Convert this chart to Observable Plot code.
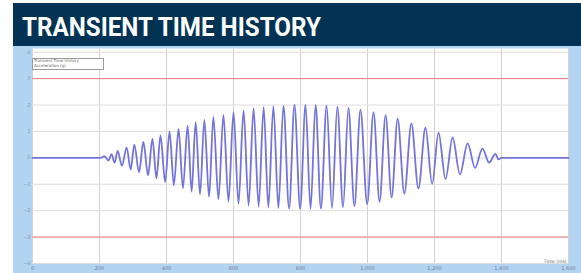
<!DOCTYPE html>
<html>
<head>
<meta charset="utf-8">
<script src="https://cdn.jsdelivr.net/npm/d3@7"></script>
<script src="https://cdn.jsdelivr.net/npm/@observablehq/plot@0.6"></script>
<style>
  html, body { margin: 0; padding: 0; background: #ffffff; }
  #wrap { position: absolute; left: 13px; top: 3px; width: 568px; }
  #header { position: relative; height: 43px; background: #023354; overflow: hidden; }
  #title { position: absolute; left: 9px; top: 11px; font-family: Roboto, sans-serif; font-weight: 700;
           font-size: 26px; line-height: 26px; color: #ffffff; white-space: nowrap;
           transform: scaleX(0.93); transform-origin: left top; }
  #chart { position: relative; height: 227px; }
  #legend { position: absolute; left: 19px; top: 12px; width: 69px; height: 10px; background: #fff;
            border: 1px solid #9a9a9a; font-family: "DejaVu Sans", sans-serif; font-size: 4px; line-height: 4.5px;
            color: #666; padding-left: 1px; }
</style>
</head>
<body>
<div id="wrap">
  <div id="header"><span id="title">TRANSIENT TIME HISTORY</span></div>
  <div id="chart"></div>
</div>
<script>
// Extrema of the transient waveform (time, amplitude)
const extremaTime = [0, 203, 215, 227, 236, 245, 254, 267, 281, 293, 304, 318, 331, 345, 358, 370, 382, 396, 409, 422,
  436, 449, 463, 475, 487, 500, 513, 527, 540, 555, 570, 585, 600, 615, 630, 645, 660, 675, 690, 704,
  719, 734, 749, 766, 782, 799, 815, 830, 845, 861, 878, 894, 910, 927, 943, 961, 979, 999, 1018, 1036,
  1054, 1072, 1090, 1110, 1131, 1152, 1173, 1193, 1212, 1233, 1254, 1276, 1299, 1321, 1343, 1363, 1382, 1391, 1400, 1600];
const extremaValue = [0, 0, 0.06, -0.1, 0.14, -0.18, 0.26, -0.3, 0.39, -0.44, 0.5, -0.55, 0.6, -0.66, 0.72, -0.78, 0.85, -0.92, 1.0, -1.04,
  1.1, -1.15, 1.22, -1.28, 1.35, -1.38, 1.44, -1.48, 1.55, -1.57, 1.63, -1.66, 1.74, -1.74, 1.8, -1.8, 1.87, -1.85, 1.92, -1.88,
  1.96, -1.9, 1.97, -1.92, 2.0, -1.93, 2.0, -1.93, 2.0, -1.92, 1.98, -1.9, 1.94, -1.87, 1.89, -1.82, 1.82, -1.75, 1.73, -1.66,
  1.62, -1.5, 1.48, -1.36, 1.3, -1.16, 1.14, -0.98, 0.95, -0.8, 0.77, -0.63, 0.55, -0.38, 0.35, -0.18, 0.15, -0.06, 0, 0];
const xTicks = [0, 200, 400, 600, 800, 1000, 1200, 1400, 1600];
const yTicks = [-4, -3, -2, -1, 0, 1, 2, 3, 4];
const limitValues = [-3, 3];
const legendLines = ["Transient Time History", "Acceleration (g)"];
const xAxisTitle = "Time (ms)";

const signal = extremaTime.map((t, i) => ({t, v: extremaValue[i]}));

const chart = Plot.plot({
  width: 568,
  height: 227,
  marginLeft: 19,
  marginRight: 13,
  marginTop: 2,
  marginBottom: 10,
  style: {background: "#b3d3f2", fontFamily: "DejaVu Sans, sans-serif"},
  x: {domain: [0, 1600]},
  y: {domain: [-4, 4.14]},
  marks: [
    Plot.frame({fill: "#ffffff", stroke: null}),
    Plot.ruleX(xTicks, {stroke: "#d2d2d2", strokeWidth: 1}),
    Plot.ruleY(yTicks, {stroke: "#dedede", strokeWidth: 1}),
    Plot.ruleY(limitValues, {stroke: "#ea7a82", strokeWidth: 1}),
    Plot.line(signal, {x: "t", y: "v", curve: "monotone-x", stroke: "#7373da", strokeWidth: 1.8}),
    Plot.axisX(xTicks, {tickSize: 0, tickPadding: 3, fontSize: 5, fill: "#6c7f99", label: null}),
    Plot.axisY(yTicks, {tickSize: 0, tickPadding: 2, fontSize: 5, fill: "#8a98ad", label: null}),
    Plot.text([xAxisTitle], {frameAnchor: "bottom-right", dx: -2, dy: -1, fontSize: 4.5, fill: "#666"})
  ]
});
const holder = document.getElementById("chart");
holder.appendChild(chart);
const legend = document.createElement("div");
legend.id = "legend";
legend.innerHTML = legendLines.join("<br>");
holder.appendChild(legend);
</script>
</body>
</html>
